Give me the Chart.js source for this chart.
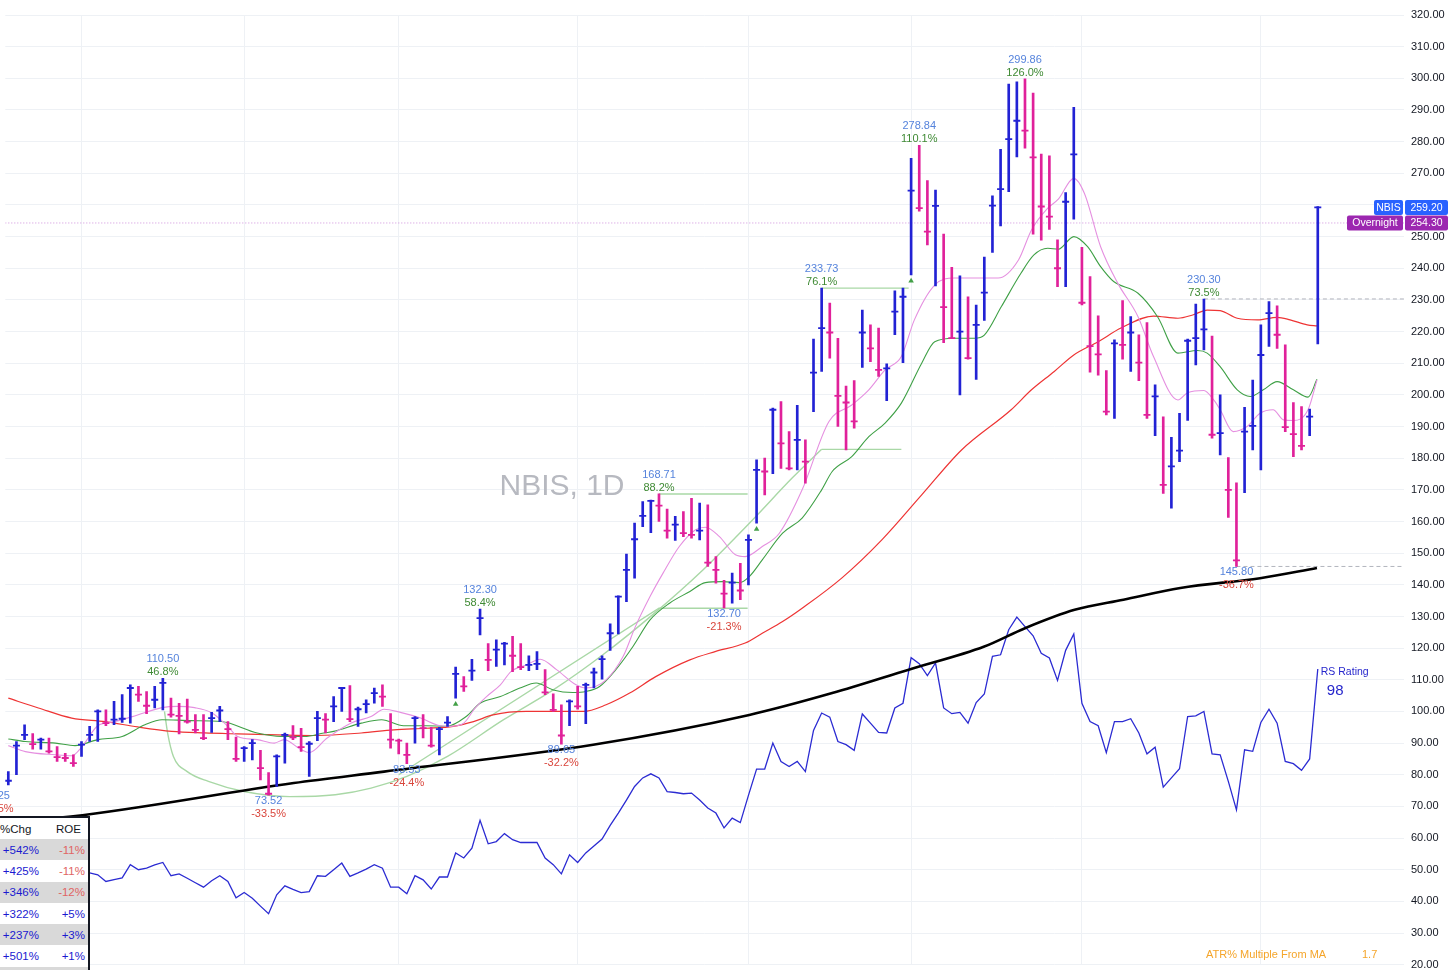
<!DOCTYPE html>
<html>
<head>
<meta charset="utf-8">
<script src="https://cdn.jsdelivr.net/npm/chart.js@4.4.1/dist/chart.umd.min.js"></script>
<style>
  html, body { margin: 0; padding: 0; background: #fff; }
  #wrap { position: relative; width: 1456px; height: 970px; overflow: hidden; font-family: "Liberation Sans", Arial, sans-serif; }
  #chart { position: absolute; left: 0; top: 0; }
  #stats { position: absolute; left: 0; top: 816px; width: 88px; height: 160px; background: #fff;
           border-top: 2px solid #131722; border-right: 2px solid #131722; font-size: 11.5px; }
  .row { position: relative; height: 21.3px; }
  .row.head { height: 21px; }
  .row.gray { background: #d9d9d9; }
  .row span { position: absolute; top: 50%; transform: translateY(-50%); white-space: nowrap; }
  .c1 { right: 49px; color: #1a1ad0; }
  .c2 { right: 3px; }
  .head span { color: #131722; }
</style>
</head>
<body>
<div id="wrap">
  <canvas id="chart" width="1456" height="970"></canvas>
  <div id="stats"></div>
</div>
<script>
// daily bars, index 0 = first visible session
const highs = [81.0,90.5,95.8,93.0,91.6,91.6,88.9,86.8,86.3,90.5,95.3,100.5,100.5,103.2,105.3,108.4,107.9,106.3,107.9,110.5,
  104.2,102.6,103.9,99.0,99.0,99.7,101.6,96.8,91.9,88.9,91.1,87.7,80.7,86.3,93.2,95.5,94.7,90.5,100.0,99.3,
  104.7,107.6,108.2,101.4,103.7,107.4,108.4,99.3,91.3,90.0,98.4,99.0,95.0,95.0,98.4,114.0,111.0,116.5,132.3,121.4,
  122.6,121.8,123.7,121.4,117.6,118.9,113.2,105.6,102.1,103.7,107.9,109.0,113.7,117.6,127.7,136.5,149.7,159.5,166.3,166.8,
  168.71,163.9,161.6,163.1,167.3,165.8,165.3,148.9,141.4,143.7,146.8,155.8,179.5,180.0,195.8,197.9,188.4,196.7,185.8,217.6,
  233.73,229.0,217.9,202.8,204.5,226.8,222.1,221.1,209.8,232.9,233.7,274.7,278.84,267.7,264.7,250.8,240.3,237.6,231.0,228.4,
  243.5,262.9,277.6,298.2,298.9,299.86,295.3,276.1,275.5,249.0,263.9,290.8,246.6,237.4,225.0,207.7,217.4,229.8,224.7,219.0,
  222.8,203.2,193.1,186.6,194.2,217.6,228.7,230.3,218.6,200.0,180.2,172.2,196.1,204.7,222.1,229.5,228.1,215.8,197.6,196.3,
  195.5,259.5];
const lows = [76.8,80.0,91.1,88.1,88.1,86.8,84.2,84.2,82.6,85.8,90.5,90.5,95.5,95.8,96.5,96.3,103.2,99.3,101.1,100.5,
  98.2,92.9,96.3,93.2,91.1,93.4,96.8,91.1,84.2,84.2,84.7,78.4,73.52,76.3,83.7,91.1,87.4,79.5,90.8,93.2,
  96.8,100.0,96.8,95.3,99.5,102.6,101.6,88.4,86.6,83.53,90.0,91.6,88.7,86.3,95.3,104.2,106.3,109.8,124.2,112.9,
  114.2,114.7,112.6,113.2,112.9,113.2,105.3,100.0,89.65,95.5,100.7,96.1,107.4,110.2,119.3,124.5,134.7,142.1,158.4,156.5,
  160.0,154.7,154.0,155.2,154.7,154.2,145.8,140.5,132.7,134.2,135.3,140.0,159.5,168.4,175.1,176.8,176.3,176.3,172.1,194.7,
  207.4,211.6,190.0,182.6,189.5,208.7,210.5,205.8,198.2,219.0,210.2,237.9,258.0,247.4,234.4,216.5,217.9,200.0,211.3,204.9,
  223.5,245.0,253.4,264.2,275.2,277.9,250.8,248.9,252.3,234.2,234.2,255.5,228.4,207.2,206.2,193.7,192.6,211.3,207.4,204.5,
  192.6,187.1,168.9,164.2,178.9,191.9,209.5,214.2,186.3,181.0,161.3,145.8,169.1,182.6,176.3,215.3,214.7,188.4,180.5,182.6,
  187.1,216.1];
const closes = [78.1,89.2,92.6,89.7,91.1,87.4,85.6,85.3,83.7,89.5,92.6,100.0,96.3,97.4,97.7,107.4,105.3,101.8,103.7,109.0,
  99.0,98.6,96.8,94.2,91.6,97.9,100.3,94.4,85.0,88.4,90.0,82.1,74.0,85.8,92.6,91.8,88.7,89.8,97.9,97.4,
  101.6,107.4,97.6,100.7,102.3,105.8,104.7,91.1,90.8,86.3,97.9,94.7,89.2,94.4,96.5,111.9,107.9,112.9,129.5,116.3,
  119.5,121.4,117.6,114.0,114.7,115.0,106.0,100.5,92.4,103.2,101.6,108.4,112.3,116.5,124.7,136.3,144.7,154.4,161.8,166.5,
  165.0,157.1,159.0,156.3,155.8,157.1,147.0,144.7,137.2,140.7,138.2,154.2,176.3,175.8,195.3,184.7,176.8,185.8,178.9,207.0,
  221.1,219.7,199.7,197.6,191.6,219.7,214.7,207.9,208.4,226.3,231.0,264.5,259.0,251.6,259.7,227.7,217.9,220.0,211.6,222.1,
  232.3,259.8,265.0,280.8,286.6,283.5,275.0,259.5,256.3,240.0,261.0,276.0,229.1,215.4,212.8,194.7,216.3,215.8,219.7,210.2,
  193.7,199.5,171.6,177.4,182.4,217.1,217.9,220.7,187.4,187.9,170.0,147.7,188.4,190.2,212.6,225.8,219.0,189.8,187.6,183.9,
  193.1,259.2];

// relative strength line, starts at bar 10
const rsStart = 10;
const rsValues = [49.0,48.4,46.3,46.9,47.4,51.6,50.0,50.5,51.5,52.3,48.1,48.7,47.3,45.9,44.5,46.5,48.1,46.3,41.1,42.8,
  41.0,38.5,36.1,42.1,44.9,43.8,42.8,43.1,48.1,47.9,50.0,52.1,47.9,49.0,50.2,51.6,50.5,44.5,44.5,42.4,
  48.1,46.8,43.9,47.7,47.7,55.3,53.7,56.8,65.6,58.2,58.9,61.4,59.5,58.6,58.6,58.6,53.7,51.6,48.7,54.7,
  52.3,55.3,57.5,59.7,64.0,67.9,72.0,76.3,79.0,80.3,79.0,74.7,74.4,74.0,74.2,72.0,69.5,67.9,63.2,66.3,
  64.9,73.5,81.8,81.8,90.0,84.2,82.6,84.2,81.0,94.0,99.5,98.2,90.5,89.5,87.7,99.2,96.3,93.4,93.2,101.1,
  102.6,117.0,115.1,111.3,115.3,101.1,99.3,99.7,96.3,102.8,105.5,117.4,117.9,125.8,129.8,126.8,123.9,118.4,116.9,109.8,
  119.3,124.5,102.6,96.8,95.5,87.0,96.8,96.8,97.7,93.2,86.6,88.7,76.1,79.0,81.9,98.4,98.6,100.0,86.6,86.3,
  77.9,68.9,87.9,87.4,96.5,100.7,96.3,84.2,83.5,81.4,85.0,113.4];

// moving averages: [bar, price]
const ma10 = [[0,89.2],[2.1,87.3],[5.8,86.3],[7.8,86.0],[9.1,89.0],[11,95.5],[13.1,96.8],[15.9,98.9],[18.9,101.2],[20.8,101.6],
  [22.9,101.2],[25,99.6],[26.9,95.5],[28.2,92.1],[30.6,91.1],[32.7,90.0],[33.9,91.1],[36,87.9],[37,87.0],[39.2,91.6],
  [42.1,96.3],[44.6,98.4],[46.2,100.7],[48.2,99.7],[50.7,97.9],[53.1,95.5],[54.4,95.3],[56,96.3],[57.4,101.1],[58.8,104.7],
  [60.5,108.4],[61.8,112.6],[63.7,114.7],[65.4,116.5],[67.4,113.2],[69.8,108.4],[71,107.4],[73.5,110.0],[75.6,117.4],[77.1,126.8],
  [78.9,136.3],[80.5,143.7],[82.5,152.1],[84.5,157.4],[85.7,158.2],[87.4,155.3],[89.4,149.5],[90.6,148.9],[92.7,152.1],[94.8,156.3],
  [97.6,170.0],[100.9,191.6],[103.7,196.8],[105.8,201.6],[107.8,207.9],[109.8,212.1],[111.4,223.7],[113.9,234.7],[116.3,236.9],[118.8,236.9],
  [121.7,236.9],[124.2,242.6],[125.8,252.1],[127.8,259.0],[129.1,261.8],[131,268.4],[132.3,263.7],[134.3,246.8],[136.4,235.3],[138.9,224.7],
  [140.8,212.1],[143.8,198.4],[145,200.7],[147,201.4],[148.2,198.4],[149,195.3],[150.6,188.4],[152.3,190.0],[153.9,194.2],[155.5,195.3],
  [156.8,192.1],[158,191.9],[159.8,195.3],[160.9,204.7]];
const ma21 = [[0,91.3],[2.1,90.5],[5.8,90.0],[8.2,89.2],[11,91.1],[14,92.1],[16.8,95.8],[18.9,97.4],[22.5,97.1],[26.2,96.8],
  [30.6,93.2],[33.6,92.1],[36.4,92.1],[38.8,93.2],[40,93.7],[43.4,96.3],[45.9,97.4],[48.6,95.5],[51.4,95.5],[53.9,95.3],
  [56.3,98.4],[58,102.6],[60.5,104.7],[62.9,107.4],[64.9,109.0],[67,106.8],[69.4,106.0],[71,106.3],[72.7,107.9],[74.7,113.2],
  [76.8,120.5],[78.9,128.9],[81.3,134.2],[83.8,137.9],[85.7,140.7],[87.8,141.0],[89.9,140.7],[91.1,142.6],[92.7,147.9],[95.2,156.3],
  [97.6,161.1],[100,170.0],[101.3,175.8],[103.7,180.5],[105.8,186.8],[107.8,191.1],[109.8,197.4],[112.3,210.0],[113.9,216.8],[116.3,217.9],
  [118.8,217.9],[120,218.9],[122.1,227.9],[124.5,238.4],[126.1,244.2],[127.8,246.3],[129.1,246.0],[131,250.0],[132.7,246.8],[134.3,240.5],
  [135.9,235.8],[138.9,232.1],[141.3,224.7],[143.8,213.2],[146.2,214.0],[147.4,213.2],[149,208.9],[151.1,201.6],[152.7,199.5],[154.3,201.6],
  [156,204.2],[158,201.6],[159.8,199.3],[160.9,204.9]];
const ma50 = [[0,104.2],[3.7,101.1],[7.8,97.9],[11.9,96.8],[15.9,95.1],[20.1,93.7],[24.1,93.2],[28.2,92.9],[33.1,92.6],[38,92.4],
  [43.4,93.2],[47.4,94.2],[51.4,94.7],[54.7,95.3],[57.2,96.8],[59.6,98.9],[63.7,100.0],[67.8,100.0],[70.7,100.0],[73.5,102.1],
  [76.4,105.8],[79.6,111.0],[83.8,116.3],[86.9,118.9],[90.6,121.6],[92.7,124.7],[95.2,128.4],[97.6,132.6],[102.5,142.2],[107.4,154.2],
  [112.3,168.4],[117.2,182.6],[123.3,195.3],[125.8,201.6],[128.6,207.4],[131,212.6],[134,216.8],[136.8,221.1],[140.8,224.9],[143.8,224.2],
  [145.7,225.3],[147.4,226.8],[149,226.6],[151.1,224.2],[153.6,223.7],[156,224.5],[157.6,223.7],[159.7,222.1],[160.9,221.8]];
const ma200 = [[0,65.2],[7.7,66.8],[35.1,77.4],[46.2,81.0],[71.9,89.5],[91.1,98.9],[101.3,105.8],[110.7,113.2],[120,120.5],[125,126.3],
  [131.1,132.1],[137.1,135.3],[144.1,139.0],[153.9,142.1],[160.9,145.3]];

// drawings (light green) and markers
const cupCurve = [[19.2,100.0],[19.6,93.0],[20.3,85.8],[22,81.0],[24.6,77.9],[29,74.7],[34.6,73.1],[40.2,73.7],[44.6,75.8],[49,79.5],
  [54,85.8],[60.9,97.4],[67,106.8],[73.1,117.9],[79.2,130.5],[85.4,144.7],[91.5,160.5],[96.4,173.8],[100,182.8]];
const trendLine = [[48,80.0],[80,132.6],[90.9,132.6]];
const levelLines = [
  [[80,168.71],[90.9,168.71]],
  [[100,233.73],[110.7,233.73]],
  [[100,182.8],[109.8,182.8]]
];
const breakoutIdx = [55, 92, 111];
const breakoutPrice = [102.3, 157.6, 236.0];

// pivot labels
const pivotIdx = [-1.5, 19, 32, 49, 58, 68, 80, 88, 100, 112, 125, 147, 151];
const pivotPrice = [75.25, 110.50, 73.52, 83.53, 132.30, 89.65, 168.71, 132.70, 233.73, 278.84, 299.86, 230.30, 145.80];
const pivotPct = ['-30.5%', '46.8%', '-33.5%', '-24.4%', '58.4%', '-32.2%', '88.2%', '-21.3%', '76.1%', '110.1%', '126.0%', '73.5%', '-36.7%'];

const monthStarts = [9, 29, 48, 70, 91, 111, 132, 154];
const overnightPrice = 254.30;
const lastHighRef = 230.30;
const lastLowRef = 145.80;
const rsRating = '98';
const atrMultiple = '1.7';

const chgVals = ['+542%', '+425%', '+346%', '+322%', '+237%', '+501%'];
const roeVals = ['-11%', '-11%', '-12%', '+5%', '+3%', '+1%'];

const FONT = '"Liberation Sans", Arial, sans-serif';
const BLUE = '#2222d4', PINK = '#e0219a';
const xMin = -0.37, xMax = 171.6;

const barColors = closes.map((c, i) => (i === 0 || c >= closes[i - 1]) ? BLUE : PINK);
const pts = arr => arr.map(p => ({ x: p[0], y: p[1] }));

function lineSet(points, color, width, extra) {
  return Object.assign({
    type: 'line', data: pts(points), borderColor: color, borderWidth: width,
    pointRadius: 0, pointHoverRadius: 0, fill: false, tension: 0
  }, extra || {});
}

// stats table
const stats = document.getElementById('stats');
let html = '<div class="row head"><span style="left:0">%Chg</span><span style="left:56px">ROE</span></div>';
chgVals.forEach((v, i) => {
  const neg = roeVals[i].charAt(0) === '-';
  html += '<div class="row' + (i % 2 === 0 ? ' gray' : '') + '"><span class="c1">' + v +
    '</span><span class="c2" style="color:' + (neg ? '#e06464' : '#1a1ad0') + '">' + roeVals[i] + '</span></div>';
});
html += '<div class="row gray"></div>';
stats.innerHTML = html;

const overlay = {
  id: 'overlay',
  beforeDatasetsDraw(chart) {
    const ctx = chart.ctx;
    ctx.save();
    ctx.font = '30px ' + FONT;
    ctx.fillStyle = '#b7b9c0';
    ctx.textAlign = 'center';
    ctx.textBaseline = 'middle';
    ctx.fillText('NBIS, 1D', 562, 487);
    ctx.restore();
  },
  afterDatasetsDraw(chart) {
    const ctx = chart.ctx, xs = chart.scales.x, ys = chart.scales.y;
    ctx.save();
    ctx.font = '11px ' + FONT;
    ctx.textAlign = 'center';
    ctx.textBaseline = 'middle';
    pivotIdx.forEach((idx, k) => {
      const px = xs.getPixelForValue(idx), py = ys.getPixelForValue(pivotPrice[k]);
      const low = pivotPct[k].charAt(0) === '-';
      ctx.fillStyle = '#5583dc';
      ctx.fillText(pivotPrice[k].toFixed(2), px, low ? py + 6 : py - 19);
      ctx.fillStyle = low ? '#d9463c' : '#3f8a34';
      ctx.fillText(pivotPct[k], px, low ? py + 19 : py - 6);
    });
    // RS rating tag at the end of the RS line
    const lastRs = rsValues.length - 1;
    const rx = xs.getPixelForValue(rsStart + lastRs), ry = ys.getPixelForValue(rsValues[lastRs]);
    ctx.textAlign = 'left';
    ctx.fillStyle = '#2626cc';
    ctx.font = '10.5px ' + FONT;
    ctx.fillText('RS Rating', rx + 3, ry + 3);
    ctx.font = '15px ' + FONT;
    ctx.fillText(rsRating, rx + 9, ry + 22);
    ctx.font = '11px ' + FONT;
    ctx.fillStyle = '#f5a52a';
    ctx.fillText('ATR% Multiple From MA', 1206, 955);
    ctx.fillText(atrMultiple, 1362, 955);
    ctx.restore();
  },
  afterDraw(chart) {
    const ctx = chart.ctx, ys = chart.scales.y, r = chart.chartArea.right;
    ctx.save();
    ctx.font = '10.5px ' + FONT;
    ctx.textAlign = 'center';
    ctx.textBaseline = 'middle';
    function badge(text, x1, x2, y, color) {
      ctx.fillStyle = color;
      ctx.beginPath();
      ctx.roundRect(x1, y - 7.5, x2 - x1, 15, 2);
      ctx.fill();
      ctx.fillStyle = '#fff';
      ctx.fillText(text, (x1 + x2) / 2, y + 0.5);
    }
    const lastClose = closes[closes.length - 1];
    const yN = ys.getPixelForValue(lastClose);
    badge('NBIS', r - 30, r - 1, yN, '#2962ff');
    badge(lastClose.toFixed(2), r + 1, r + 44, yN, '#2962ff');
    const yO = ys.getPixelForValue(overnightPrice);
    badge('Overnight', r - 57, r - 1, yO, '#9c27b0');
    badge(overnightPrice.toFixed(2), r + 1, r + 44, yO, '#9c27b0');
    ctx.restore();
  }
};

const datasets = [
  {
    type: 'scatter', data: closes.map((c, i) => ({ x: i, y: c })),
    pointStyle: 'line', pointRadius: 3.5, pointHoverRadius: 3.5, pointBorderWidth: 1.8,
    pointBorderColor: barColors, pointBackgroundColor: barColors, order: 0
  },
  {
    type: 'bar', data: highs.map((h, i) => ({ x: i, y: [lows[i], h] })),
    backgroundColor: barColors, barThickness: 2, borderWidth: 0, order: 1
  },
  {
    type: 'scatter', data: breakoutIdx.map((x, i) => ({ x: x, y: breakoutPrice[i] })),
    pointStyle: 'triangle', pointRadius: 3.2, pointBackgroundColor: '#43a047', pointBorderWidth: 0, order: 2
  },
  lineSet(ma10, '#e590e0', 1.1, { cubicInterpolationMode: 'monotone', order: 3 }),
  lineSet(ma21, '#3fa046', 1.1, { cubicInterpolationMode: 'monotone', order: 4 }),
  lineSet(ma50, '#ee3434', 1.2, { cubicInterpolationMode: 'monotone', order: 5 }),
  lineSet(ma200, '#000000', 2.6, { cubicInterpolationMode: 'monotone', order: 6 }),
  lineSet(rsValues.map((v, i) => [rsStart + i, v]), '#2b2bd2', 1.3, { order: 7 }),
  lineSet(cupCurve, '#a9d8a6', 1.4, { cubicInterpolationMode: 'monotone', order: 8 }),
  lineSet(trendLine, '#a9d8a6', 1.4, { order: 9 }),
  ...levelLines.map((l, i) => lineSet(l, '#a9d8a6', 1.4, { order: 10 + i })),
  lineSet([[xMin, overnightPrice], [xMax, overnightPrice]], '#cf8fdc', 1, { borderDash: [1, 2], order: 20 }),
  lineSet([[147, lastHighRef], [xMax, lastHighRef]], '#b2b5be', 1, { borderDash: [4, 3], order: 21 }),
  lineSet([[151, lastLowRef], [xMax, lastLowRef]], '#b2b5be', 1, { borderDash: [4, 3], order: 22 })
];

const config = {
  type: 'bar',
  data: { datasets: datasets },
  options: {
    responsive: false,
    animation: false,
    devicePixelRatio: 1,
    layout: { padding: { top: 15, bottom: 5, left: 0, right: 0 } },
    plugins: { legend: { display: false }, tooltip: { enabled: false } },
    scales: {
      x: {
        type: 'linear', min: xMin, max: xMax, offset: false,
        grid: { color: '#eef1f5', drawTicks: false, offset: false },
        border: { display: false },
        ticks: { display: false },
        afterBuildTicks: s => { s.ticks = monthStarts.map(v => ({ value: v })); },
        afterFit: s => { s.height = 0; s.paddingLeft = 0; s.paddingRight = 0; }
      },
      y: {
        position: 'right', min: 20, max: 320,
        grid: { color: '#eef1f5', drawTicks: false },
        border: { display: false },
        ticks: {
          stepSize: 10, padding: 7, color: '#131722',
          font: { size: 11, family: FONT },
          callback: v => v.toFixed(2)
        },
        afterFit: s => { s.width = 52; s.paddingTop = 0; s.paddingBottom = 0; }
      }
    }
  },
  plugins: [overlay]
};

const myChart = new Chart(document.getElementById('chart'), config);
</script>
</body>
</html>
